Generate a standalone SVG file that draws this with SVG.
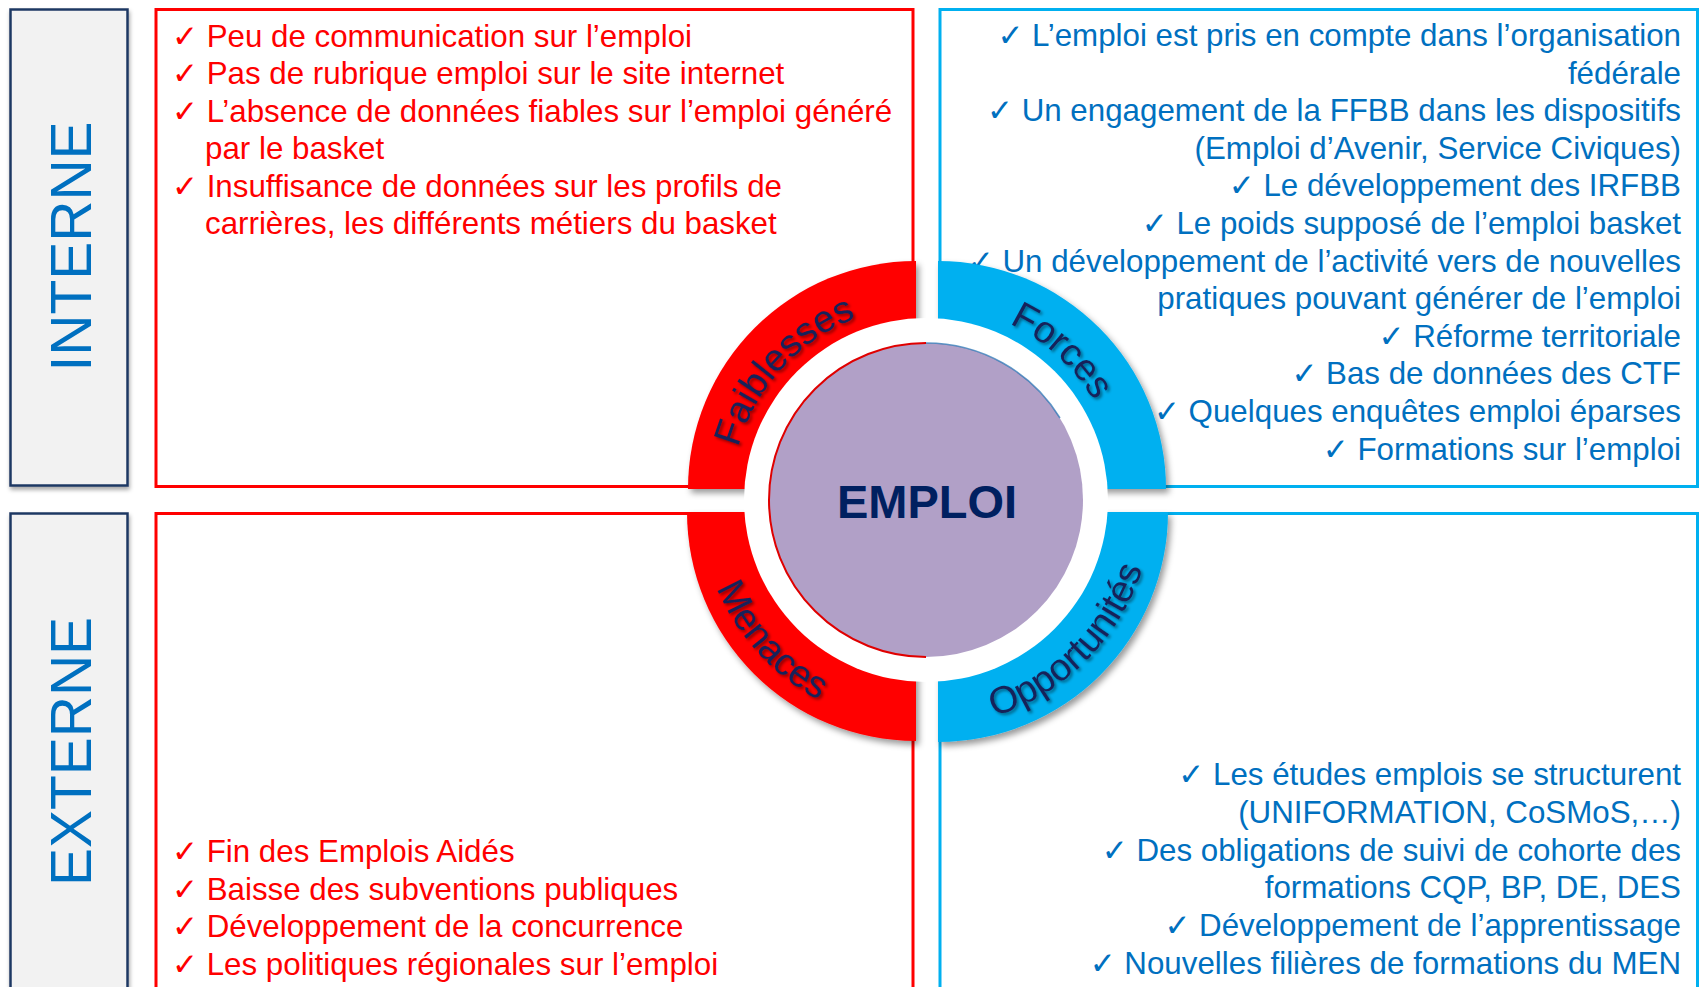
<svg xmlns="http://www.w3.org/2000/svg" width="1699" height="987" viewBox="0 0 1699 987">
<defs>
<style>
.side{fill:#f2f2f2;stroke:#1f3864;stroke-width:2.5}
.rbox{fill:#ffffff;stroke:#ff0000;stroke-width:3}
.bbox{fill:#ffffff;stroke:#00b0f0;stroke-width:3}
.sideT{font-family:'Liberation Sans',Arial,sans-serif;font-size:57px;fill:#0070c0}
.t{font-family:'Liberation Sans',Arial,sans-serif;font-size:31.3px}
.red{fill:#ff0000}
.blue{fill:#0070c0}
.ck{font-family:'DejaVu Sans',sans-serif;font-size:31px}
.lab{font-family:'Liberation Sans',Arial,sans-serif;font-size:38px;fill:#15235a}
.qr{fill:#ff0000}
.qb{fill:#00b0f0}
</style>
<filter id="sh" x="-20%" y="-20%" width="140%" height="140%">
<feDropShadow dx="3" dy="4" stdDeviation="3" flood-color="#000" flood-opacity="0.4"/>
</filter>
<filter id="bsh" x="-10%" y="-10%" width="120%" height="120%">
<feDropShadow dx="1" dy="3" stdDeviation="2" flood-color="#000" flood-opacity="0.35"/>
</filter>
<filter id="tsh" x="-20%" y="-20%" width="140%" height="140%">
<feDropShadow dx="2" dy="2" stdDeviation="1.5" flood-color="#000" flood-opacity="0.45"/>
</filter>
<path id="pF" d="M731,500 A195,195 0 0 1 926,305"/>
<path id="pFo" d="M926,305 A195,195 0 0 1 1121,500"/>
<path id="pM" d="M699,500 A227,227 0 0 0 926,727"/>
<path id="pO" d="M926,727 A227,227 0 0 0 1153,500"/>
</defs>

<g id="interne">
<rect class="side" x="10.5" y="9.5" width="117" height="476" filter="url(#bsh)"/>
<text class="sideT" transform="translate(91,246.5) rotate(-90)" text-anchor="middle">INTERNE</text>
</g>
<g id="externe">
<rect class="side" x="10.5" y="513.5" width="117" height="500" filter="url(#bsh)"/>
<text class="sideT" transform="translate(91,751.5) rotate(-90)" text-anchor="middle">EXTERNE</text>
</g>

<g id="box-faiblesses">
<rect class="rbox" x="156" y="9.5" width="757" height="477"/>
<text class="t red" x="172" y="46.5"><tspan class="ck">✓</tspan> Peu de communication sur l’emploi</text>
<text class="t red" x="172" y="84"><tspan class="ck">✓</tspan> Pas de rubrique emploi sur le site internet</text>
<text class="t red" x="172" y="121.5"><tspan class="ck">✓</tspan> L’absence de données fiables sur l’emploi généré</text>
<text class="t red" x="205" y="159">par le basket</text>
<text class="t red" x="172" y="196.5"><tspan class="ck">✓</tspan> Insuffisance de données sur les profils de</text>
<text class="t red" x="205" y="234">carrières, les différents métiers du basket</text>
</g>

<g id="box-menaces">
<rect class="rbox" x="156" y="513.5" width="757" height="500"/>
<text class="t red" x="172" y="862"><tspan class="ck">✓</tspan> Fin des Emplois Aidés</text>
<text class="t red" x="172" y="899.5"><tspan class="ck">✓</tspan> Baisse des subventions publiques</text>
<text class="t red" x="172" y="937"><tspan class="ck">✓</tspan> Développement de la concurrence</text>
<text class="t red" x="172" y="974.5"><tspan class="ck">✓</tspan> Les politiques régionales sur l’emploi</text>
</g>

<g id="box-forces">
<rect class="bbox" x="940" y="9.5" width="757.5" height="477"/>
<g text-anchor="end">
<text class="t blue" x="1681" y="46"><tspan class="ck">✓</tspan> L’emploi est pris en compte dans l’organisation</text>
<text class="t blue" x="1681" y="83.6">fédérale</text>
<text class="t blue" x="1681" y="121.2"><tspan class="ck">✓</tspan> Un engagement de la FFBB dans les dispositifs</text>
<text class="t blue" x="1681" y="158.8">(Emploi d’Avenir, Service Civiques)</text>
<text class="t blue" x="1681" y="196.4"><tspan class="ck">✓</tspan> Le développement des IRFBB</text>
<text class="t blue" x="1681" y="234"><tspan class="ck">✓</tspan> Le poids supposé de l’emploi basket</text>
<text class="t blue" x="1681" y="271.6"><tspan class="ck">✓</tspan> Un développement de l’activité vers de nouvelles</text>
<text class="t blue" x="1681" y="309.2">pratiques pouvant générer de l’emploi</text>
<text class="t blue" x="1681" y="346.8"><tspan class="ck">✓</tspan> Réforme territoriale</text>
<text class="t blue" x="1681" y="384.4"><tspan class="ck">✓</tspan> Bas de données des CTF</text>
<text class="t blue" x="1681" y="422"><tspan class="ck">✓</tspan> Quelques enquêtes emploi éparses</text>
<text class="t blue" x="1681" y="459.6"><tspan class="ck">✓</tspan> Formations sur l’emploi</text>
</g>
</g>

<g id="box-opportunites">
<rect class="bbox" x="940" y="513.5" width="757.5" height="500"/>
<g text-anchor="end">
<text class="t blue" x="1681" y="785"><tspan class="ck">✓</tspan> Les études emplois se structurent</text>
<text class="t blue" x="1681" y="822.8">(UNIFORMATION, CoSMoS,…)</text>
<text class="t blue" x="1681" y="860.6"><tspan class="ck">✓</tspan> Des obligations de suivi de cohorte des</text>
<text class="t blue" x="1681" y="898.4">formations CQP, BP, DE, DES</text>
<text class="t blue" x="1681" y="936.2"><tspan class="ck">✓</tspan> Développement de l’apprentissage</text>
<text class="t blue" x="1681" y="974"><tspan class="ck">✓</tspan> Nouvelles filières de formations du MEN</text>
</g>
</g>

<g id="quadrants" filter="url(#sh)">
<path id="q-faiblesses" class="qr" d="M916,489 L688,489 A228,228 0 0 1 916,261 Z"/>
<path id="q-forces" class="qb" d="M938,489 L938,261 A228,228 0 0 1 1166,489 Z"/>
<path id="q-menaces" class="qr" d="M916,512 L916,741 A229,229 0 0 1 687,512 Z"/>
<path id="q-opportunites" class="qb" d="M938,512 L1168,512 A230,230 0 0 1 938,742 Z"/>
</g>

<g id="center">
<circle cx="926" cy="500" r="182" fill="#ffffff"/>
<circle cx="926" cy="500" r="157" fill="#b1a0c7"/>
<path d="M926,343 A157,157 0 0 0 926,657" fill="none" stroke="#e00000" stroke-width="2"/>
<path d="M926,343 A157,157 0 0 1 1060,418" fill="none" stroke="#1f6fb0" stroke-width="1.5" opacity="0.7"/>
<text x="927" y="518" text-anchor="middle" font-family="'Liberation Sans',Arial,sans-serif" font-weight="bold" font-size="47" fill="#002060">EMPLOI</text>
</g>

<g id="labels" filter="url(#tsh)">
<text class="lab"><textPath href="#pF" startOffset="47%" text-anchor="middle">Faiblesses</textPath></text>
<text class="lab"><textPath href="#pFo" startOffset="47%" text-anchor="middle">Forces</textPath></text>
<text class="lab"><textPath href="#pM" startOffset="47%" text-anchor="middle">Menaces</textPath></text>
<text class="lab"><textPath href="#pO" startOffset="50%" text-anchor="middle">Opportunités</textPath></text>
</g>
</svg>
